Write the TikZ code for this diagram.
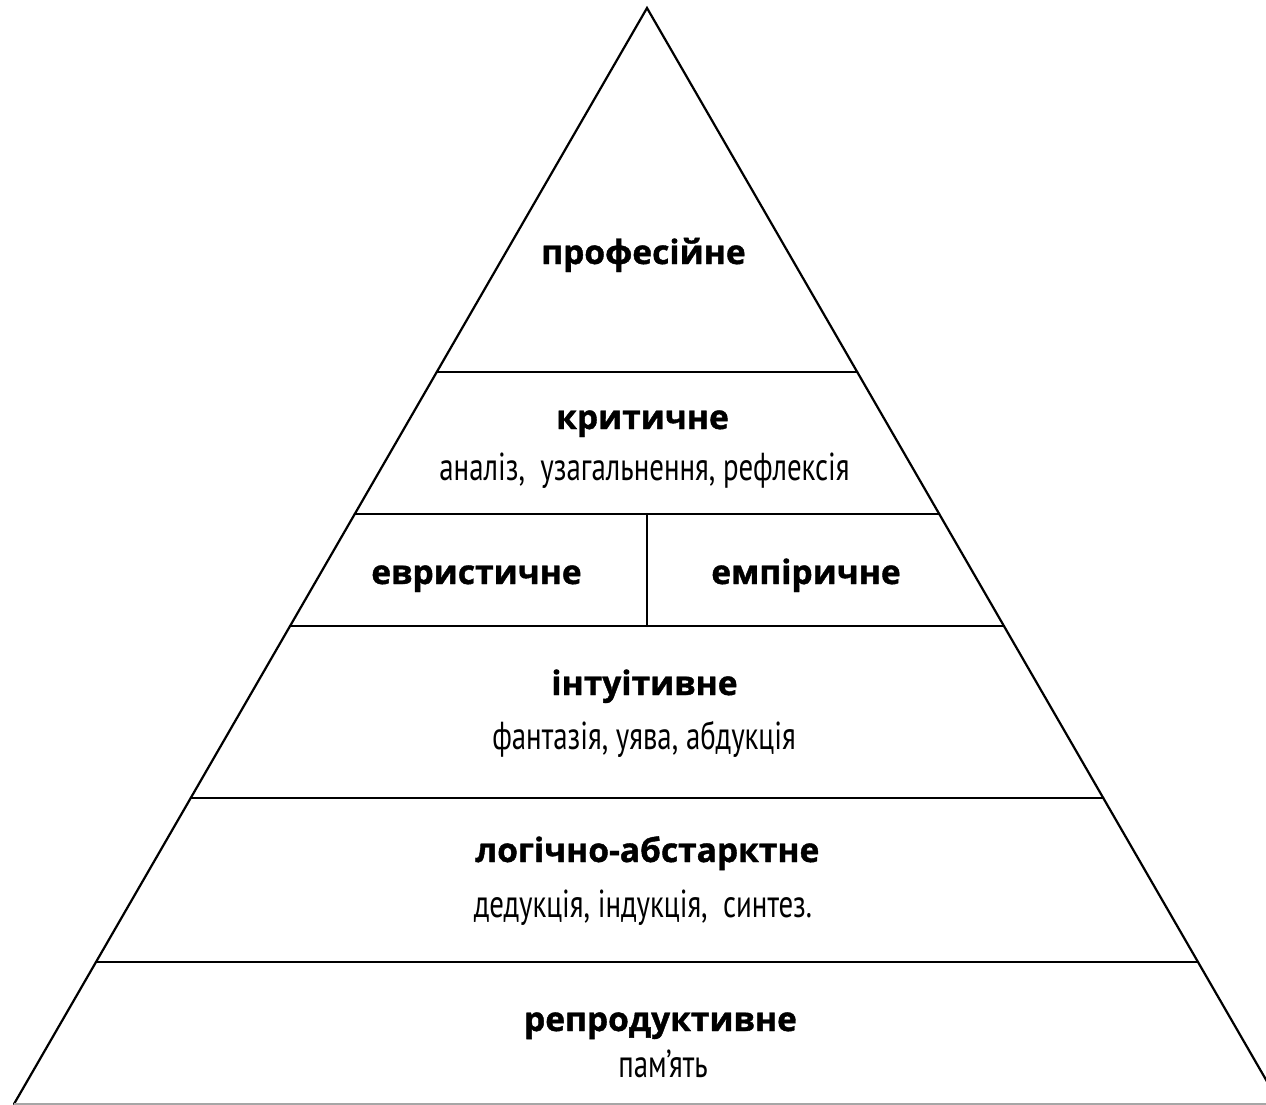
\documentclass[tikz,border=0pt]{standalone}
\usepackage{fontspec}
\setmainfont{PT Sans}
\newfontfamily\headfont{Open Sans}[BoldFont={Open Sans Bold}, BoldFeatures={FakeBold=1.2}]
\newfontfamily\notefont{PT Sans}[FakeStretch=0.74]
\begin{document}
\begin{tikzpicture}[x=1pt,y=-1pt,
  edge/.style={line width=2.2pt, line cap=round, line join=miter},
  title/.style={font=\headfont\bfseries\fontsize{33.5}{36}\selectfont, inner sep=0pt, anchor=base},
  note/.style={font=\notefont\fontsize{39}{40}\selectfont, inner sep=0pt, anchor=base}]
\useasboundingbox (0,0) rectangle (1266,1105);
\begin{scope}
\clip (0,0) rectangle (1266,1105);
% outline of the pyramid
\coordinate (apex) at (647,8);
\coordinate (bl) at (14,1104);
\coordinate (br) at (1280,1104);
\draw[edge] (bl) -- (apex) -- (br);
\draw[line width=1.2pt, black!35] (bl) -- (br);
% level dividers
\foreach \y/\n in {372/a,514/b,626/c,798/d,962/e}{
  \pgfmathsetmacro\dx{0.57755*(\y-8)}
  \coordinate (l\n) at ({647-\dx},\y);
  \coordinate (r\n) at ({647+\dx},\y);
  \draw[edge] (l\n) -- (r\n);
}
\coordinate (mb) at (647,514);
\coordinate (mc) at (647,626);
\draw[edge] (mb) -- (mc);
\end{scope}
% labels
\node[title] (prof) at (643.5,264) {професійне};
\node[title] (krit) at (642.5,429) {критичне};
\node[note]  (kritn) at (644.5,480) {аналіз,\ \ узагальнення, рефлексія};
\node[title] (evr) at (476.5,584) {евристичне};
\node[title] (emp) at (806,584) {емпіричне};
\node[title] (intu) at (644.5,695) {інтуітивне};
\node[note]  (intun) at (644,749) {фантазія, уява, абдукція};
\node[title] (log) at (647.5,862) {логічно-абстарктне};
\node[note]  (logn) at (643,917) {дедукція, індукція,\ \ синтез.};
\node[title] (rep) at (660.5,1031) {репродуктивне};
\node[note]  (repn) at (663,1077) {пам’ять};
\end{tikzpicture}
\end{document}
